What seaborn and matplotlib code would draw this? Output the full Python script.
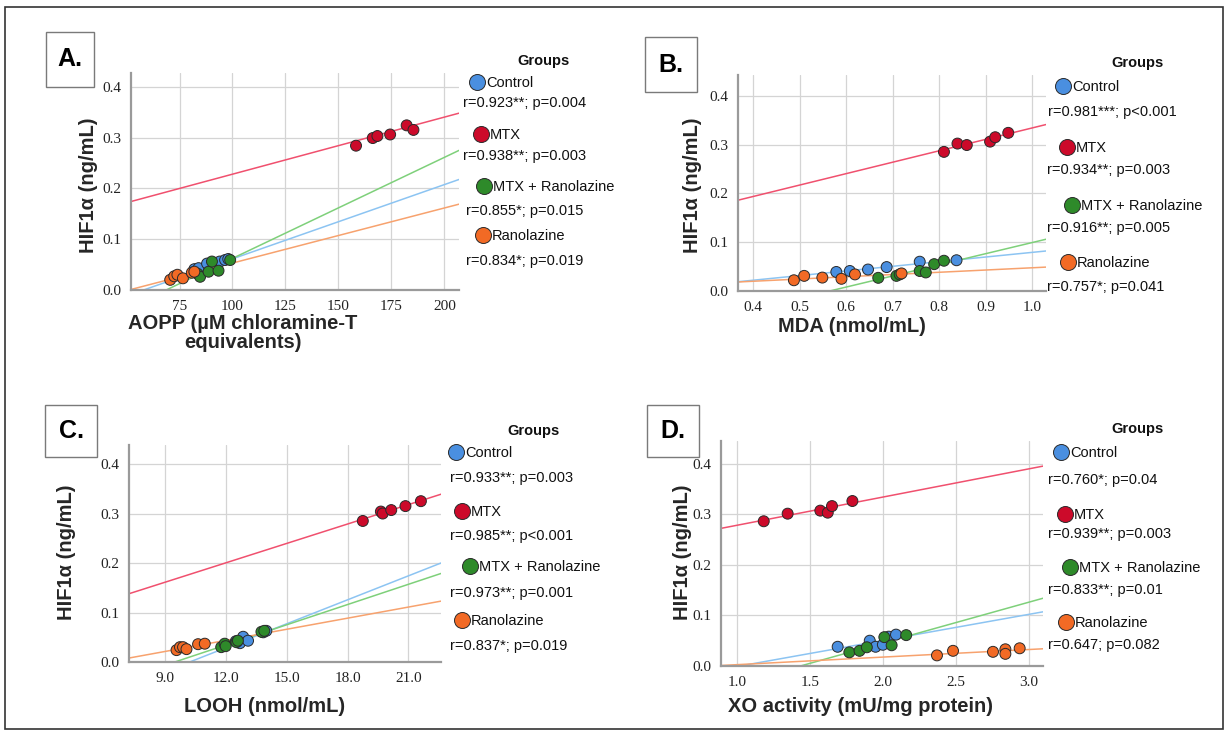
import numpy as np
import pandas as pd
import matplotlib
matplotlib.use("Agg")
import matplotlib.pyplot as plt
import seaborn as sns
from matplotlib.patches import Rectangle
from matplotlib.lines import Line2D

# ---------------- data ----------------
groups = ["Control", "MTX", "MTX + Ranolazine", "Ranolazine"]

# Panel A: AOPP
a_ctrl_x = [82, 84, 88, 94, 96.5, 98]
a_ctrl_y = [0.041, 0.043, 0.052, 0.056, 0.059, 0.061]
a_mtx_x = [158.3, 166.2, 168.4, 174.4, 182.2, 185.4]
a_mtx_y = [0.284, 0.299, 0.303, 0.306, 0.324, 0.315]
a_mr_x = [83.5, 84.7, 88.7, 90.3, 93.4, 98.9]
a_mr_y = [0.032, 0.026, 0.036, 0.056, 0.038, 0.059]
a_ran_x = [70.6, 72.5, 74.0, 76.6, 80.8, 82.0]
a_ran_y = [0.020, 0.027, 0.030, 0.023, 0.034, 0.036]
a_fit_intercept = [-0.0848, 0.1156, -0.1366, -0.0554]
a_fit_slope = [0.001461, 0.001123, 0.001988, 0.001084]
a_r_text = ["r=0.923**; p=0.004", "r=0.938**; p=0.003", "r=0.855*; p=0.015", "r=0.834*; p=0.019"]
a_xticks = [75, 100, 125, 150, 175, 200]
a_xticklabels = ["75", "100", "125", "150", "175", "200"]

# Panel B: MDA
b_ctrl_x = [0.579, 0.608, 0.647, 0.687, 0.758, 0.837]
b_ctrl_y = [0.039, 0.041, 0.044, 0.049, 0.060, 0.063]
b_mtx_x = [0.810, 0.839, 0.859, 0.909, 0.920, 0.948]
b_mtx_y = [0.285, 0.302, 0.299, 0.306, 0.315, 0.324]
b_mr_x = [0.669, 0.708, 0.715, 0.758, 0.771, 0.789, 0.810]
b_mr_y = [0.027, 0.031, 0.034, 0.041, 0.038, 0.055, 0.062]
b_ran_x = [0.488, 0.510, 0.549, 0.590, 0.619, 0.719]
b_ran_y = [0.022, 0.031, 0.0275, 0.025, 0.034, 0.036]
b_fit_intercept = [-0.0161, 0.0997, -0.1290, 0.0015]
b_fit_slope = [0.0953, 0.2345, 0.2284, 0.0461]
b_r_text = ["r=0.981***; p<0.001", "r=0.934**; p=0.003", "r=0.916**; p=0.005", "r=0.757*; p=0.041"]
b_xticks = [0.4, 0.5, 0.6, 0.7, 0.8, 0.9, 1.0]
b_xticklabels = ["0.4", "0.5", "0.6", "0.7", "0.8", "0.9", "1.0"]

# Panel C: LOOH
c_ctrl_x = [12.5, 12.86, 12.7, 13.1, 13.85, 14.0]
c_ctrl_y = [0.042, 0.051, 0.038, 0.043, 0.060, 0.063]
c_mtx_x = [18.75, 19.64, 19.73, 20.15, 20.85, 21.61]
c_mtx_y = [0.285, 0.304, 0.300, 0.307, 0.315, 0.325]
c_mr_x = [11.78, 11.95, 12.0, 12.53, 12.6, 13.76, 13.9]
c_mr_y = [0.030, 0.037, 0.032, 0.040, 0.043, 0.061, 0.063]
c_ran_x = [9.58, 9.75, 9.9, 10.07, 10.64, 10.97]
c_ran_y = [0.024, 0.030, 0.030, 0.026, 0.036, 0.037]
c_fit_intercept = [-0.1654, 0.0432, -0.1296, -0.0462]
c_fit_slope = [0.01617, 0.01309, 0.01365, 0.007487]
c_r_text = ["r=0.933**; p=0.003", "r=0.985**; p<0.001", "r=0.973**; p=0.001", "r=0.837*; p=0.019"]
c_xticks = [9.0, 12.0, 15.0, 18.0, 21.0]
c_xticklabels = ["9.0", "12.0", "15.0", "18.0", "21.0"]

# Panel D: XO activity
d_ctrl_x = [1.69, 1.91, 1.95, 2.00, 2.04, 2.09]
d_ctrl_y = [0.038, 0.050, 0.038, 0.042, 0.058, 0.062]
d_mtx_x = [1.183, 1.347, 1.571, 1.622, 1.651, 1.791]
d_mtx_y = [0.286, 0.301, 0.307, 0.303, 0.316, 0.326]
d_mr_x = [1.77, 1.84, 1.89, 2.01, 2.06, 2.16]
d_mr_y = [0.027, 0.030, 0.037, 0.057, 0.041, 0.061]
d_ran_x = [2.371, 2.481, 2.755, 2.84, 2.84, 2.938]
d_ran_y = [0.021, 0.030, 0.028, 0.033, 0.024, 0.035]
d_fit_intercept = [-0.0525, 0.2224, -0.1155, -0.0123]
d_fit_slope = [0.0515, 0.0557, 0.0805, 0.01495]
d_r_text = ["r=0.760*; p=0.04", "r=0.939**; p=0.003", "r=0.833**; p=0.01", "r=0.647; p=0.082"]
d_xticks = [1.0, 1.5, 2.0, 2.5, 3.0]
d_xticklabels = ["1.0", "1.5", "2.0", "2.5", "3.0"]

y_ticks = [0.0, 0.1, 0.2, 0.3, 0.4]
y_ticklabels = ["0.0", "0.1", "0.2", "0.3", "0.4"]

panel_letters = ["A.", "B.", "C.", "D."]
x_labels = ["AOPP (µM chloramine-T\nequivalents)", "MDA (nmol/mL)",
            "LOOH (nmol/mL)", "XO activity (mU/mg protein)"]
y_label = "HIF1α (ng/mL)"
legend_title = "Groups"

# ---------------- style ----------------
point_colors = ["#4A8FE0", "#CC0A2A", "#2E8A2A", "#F26A25"]
line_colors = ["#8CC4F2", "#F0506E", "#7ED07A", "#F7A26E"]

sns.set_style("white")
plt.rcParams["font.family"] = ["Liberation Sans", "DejaVu Sans"]

W, H = 1227, 730
fig = plt.figure(figsize=(W / 100, H / 100), dpi=100)


def fx(x):
    return x / W


def fy(y):
    return 1 - y / H


# outer frame
fig.add_artist(Rectangle((fx(5), fy(729)), fx(1223) - fx(5), fy(7) - fy(729),
                         transform=fig.transFigure, fill=False, ec="#333333", lw=1.2))

panels = [
    dict(xs=[a_ctrl_x, a_mtx_x, a_mr_x, a_ran_x], ys=[a_ctrl_y, a_mtx_y, a_mr_y, a_ran_y],
         b0=a_fit_intercept, b1=a_fit_slope, rt=a_r_text, xt=a_xticks, xtl=a_xticklabels),
    dict(xs=[b_ctrl_x, b_mtx_x, b_mr_x, b_ran_x], ys=[b_ctrl_y, b_mtx_y, b_mr_y, b_ran_y],
         b0=b_fit_intercept, b1=b_fit_slope, rt=b_r_text, xt=b_xticks, xtl=b_xticklabels),
    dict(xs=[c_ctrl_x, c_mtx_x, c_mr_x, c_ran_x], ys=[c_ctrl_y, c_mtx_y, c_mr_y, c_ran_y],
         b0=c_fit_intercept, b1=c_fit_slope, rt=c_r_text, xt=c_xticks, xtl=c_xticklabels),
    dict(xs=[d_ctrl_x, d_mtx_x, d_mr_x, d_ran_x], ys=[d_ctrl_y, d_mtx_y, d_mr_y, d_ran_y],
         b0=d_fit_intercept, b1=d_fit_slope, rt=d_r_text, xt=d_xticks, xtl=d_xticklabels),
]

# layout (pixels)
axes_px = [(131, 73, 459, 290), (738, 75, 1046, 291), (129, 445, 441, 662), (721, 441, 1043, 666)]
xlims = [(52.1, 206.9), (0.368, 1.029), (7.24, 22.6), (0.89, 3.098)]
ylims = [(0, 0.427), (0, 0.4425), (0, 0.4385), (0, 0.4446)]
xlabel_center_px = [(243, 333), (852, 327), (265, 707), (860, 707)]
ylabel_center_px = [(88, 185), (692, 185), (67, 552), (683, 552)]
box_px = [(46, 32, 94, 87), (645, 37, 697, 92), (45, 405, 97, 457), (647, 405, 699, 457)]
title_px = [(543, 61), (1137, 63), (533, 431), (1137, 429)]
marker_px = [
    [(477, 82), (481, 134), (484, 186), (483, 235)],
    [(1063, 86), (1067, 147), (1072, 205), (1068, 262)],
    [(456, 452), (462, 511), (470, 566), (462, 620)],
    [(1061, 452), (1065, 514), (1070, 567), (1066, 622)],
]
rtext_px = [
    [(463, 103), (463, 156), (466, 211), (466, 261)],
    [(1048, 112), (1047, 170), (1047, 228), (1047, 287)],
    [(450, 478), (450, 536), (450, 593), (450, 646)],
    [(1048, 480), (1048, 534), (1048, 590), (1048, 645)],
]

for i, p in enumerate(panels):
    l, t, r, b = axes_px[i]
    ax = fig.add_axes([fx(l), fy(b), (r - l) / W, (b - t) / H])
    ax.set_xlim(*xlims[i])
    ax.set_ylim(*ylims[i])

    # fit lines
    xx = np.linspace(xlims[i][0], xlims[i][1], 50)
    for g in range(4):
        sns.lineplot(x=xx, y=p["b0"][g] + p["b1"][g] * xx, ax=ax, color=line_colors[g],
                     lw=1.1, zorder=2)

    # points
    df = pd.concat([pd.DataFrame({"x": p["xs"][g], "y": p["ys"][g], "group": groups[g]})
                    for g in range(4)], ignore_index=True)
    sns.scatterplot(data=df, x="x", y="y", hue="group", hue_order=groups,
                    palette=point_colors, s=62, edgecolor="#2a2a2a", linewidth=0.7,
                    legend=False, ax=ax, zorder=3)

    ax.set_xticks(p["xt"])
    ax.set_xticklabels(p["xtl"])
    ax.set_yticks(y_ticks)
    ax.set_yticklabels(y_ticklabels)
    ax.grid(True, color="#d4d4d4", lw=0.9)
    ax.set_axisbelow(True)
    for s in ["top", "right"]:
        ax.spines[s].set_visible(False)
    for s in ["left", "bottom"]:
        ax.spines[s].set_color("#9a9a9a")
        ax.spines[s].set_linewidth(1.6)
    ax.tick_params(length=0, pad=7, labelsize=11, labelcolor="#222222")
    for lab in ax.get_xticklabels() + ax.get_yticklabels():
        lab.set_fontfamily("Liberation Serif")

    # axis labels
    ax.set_xlabel(x_labels[i], fontsize=14.5, fontweight="bold", va="center",
                  linespacing=1.05)
    cx, cy = xlabel_center_px[i]
    ax.xaxis.set_label_coords((cx - l) / (r - l), (b - cy) / (b - t))
    ax.set_ylabel(y_label, fontsize=14.5, fontweight="bold", va="center")
    cx, cy = ylabel_center_px[i]
    ax.yaxis.set_label_coords((cx - l) / (r - l), (b - cy) / (b - t))

    # panel letter box
    bl, bt, br, bb = box_px[i]
    fig.add_artist(Rectangle((fx(bl), fy(bb)), fx(br) - fx(bl), fy(bt) - fy(bb),
                             transform=fig.transFigure, fill=False, ec="#7a7a7a", lw=1.0))
    fig.text(fx((bl + br) / 2), fy((bt + bb) / 2), panel_letters[i], ha="center",
             va="center", fontsize=18, fontweight="bold", color="black")

    # legend (Groups)
    tx, ty = title_px[i]
    fig.text(fx(tx), fy(ty), legend_title, ha="center", va="center", fontsize=10.5,
             fontweight="bold", color="#111111")
    for g in range(4):
        mx, my = marker_px[i][g]
        fig.add_artist(Line2D([fx(mx)], [fy(my)], marker="o", ms=11.5, mfc=point_colors[g],
                              mec="#2a2a2a", mew=0.7, transform=fig.transFigure))
        fig.text(fx(mx + 9), fy(my + 1), groups[g], ha="left", va="center", fontsize=10.5,
                 color="#111111")
        rx, ry = rtext_px[i][g]
        fig.text(fx(rx), fy(ry), p["rt"][g], ha="left", va="center", fontsize=10.5,
                 color="#111111")

fig.savefig("out.png", dpi=100)
